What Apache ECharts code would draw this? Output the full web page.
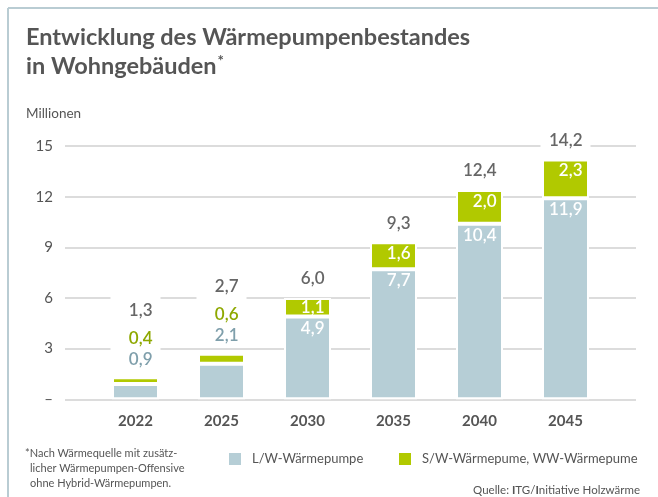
<!DOCTYPE html>
<html>
<head>
<meta charset="utf-8">
<script src="https://cdn.jsdelivr.net/npm/echarts@6/dist/echarts.min.js"></script>
<style>
html,body{margin:0;padding:0;background:#fff;}
#c{width:658px;height:497px;}
</style>
</head>
<body>
<div id="c"></div>
<script>
var years = ['2022', '2025', '2030', '2035', '2040', '2045'];
var lwValues = [0.9, 2.1, 4.9, 7.7, 10.4, 11.9];
var swValues = [0.4, 0.6, 1.1, 1.6, 2.0, 2.3];
var totals = [1.3, 2.7, 6.0, 9.3, 12.4, 14.2];
var yTicks = [0, 3, 6, 9, 12, 15];
var seriesNames = ['L/W-Wärmepumpe', 'S/W-Wärmepume, WW-Wärmepume'];
var smallBars = [true, true, false, false, false, false];

var FONT = 'Lato';
var BLUE = '#b6ced6', GREEN = '#b1c900';
var fmt = function (v) { return v.toFixed(1).replace('.', ','); };

var TITLE_FONT = 'bold 23.5px ' + FONT;
var mctx = document.createElement('canvas').getContext('2d');
mctx.font = TITLE_FONT;
var line2 = 'in Wohngebäuden';
var line2W = mctx.measureText(line2).width;

var chart = echarts.init(document.getElementById('c'), null, {renderer: 'canvas'});

function inBar(values, tightIndex) {
  return values.map(function (v, i) {
    var item = {value: v, label: {show: !smallBars[i]}};
    if (i === tightIndex) item.label.offset = [-2.5, -3];
    return item;
  });
}

var inLabel = {position: 'insideTopRight', distance: 4, offset: [-2.5, -1], color: '#fff', fontSize: 17, fontWeight: 600, fontFamily: FONT,
  formatter: function (p) { return fmt(p.value); }};

var richBase = {width: 42, align: 'right', fontSize: 17, fontWeight: 600, fontFamily: FONT};

var legendText = {color: '#555', fontSize: 13, fontFamily: FONT, padding: [0, 0, 0, 5]};

var option = {
  animation: false,
  textStyle: {fontFamily: FONT},
  grid: [
    {left: 65, right: 22, top: 146, height: 253.3},
    {left: 92.5, width: 516, top: 146, height: 253.3}
  ],
  xAxis: [
    {gridIndex: 0, type: 'category', data: years, show: false},
    {gridIndex: 1, type: 'category', data: years,
     axisLine: {show: false}, axisTick: {show: false},
     axisLabel: {color: '#555', fontSize: 15, fontWeight: 'bold', margin: 14, fontFamily: FONT}}
  ],
  yAxis: [
    {gridIndex: 0, type: 'value', min: 0, max: 15, interval: 3,
     axisLine: {show: false}, axisTick: {show: false},
     splitLine: {lineStyle: {color: '#dcdcdc', width: 2}},
     axisLabel: {color: '#555', fontSize: 15, margin: 12, fontFamily: FONT,
       formatter: function (v) { return v === 0 ? '–' : String(v); }}},
    {gridIndex: 1, type: 'value', min: 0, max: 15, interval: 3, show: false, splitLine: {show: false}}
  ],
  legend: [
    {left: 222, top: 446, padding: 5, itemWidth: 14, itemHeight: 14, icon: 'rect',
     data: [seriesNames[0]], textStyle: legendText},
    {left: 392, top: 446, padding: 5, itemWidth: 14, itemHeight: 14, icon: 'rect',
     data: [seriesNames[1]], textStyle: legendText}
  ],
  series: [
    {name: seriesNames[0], type: 'bar', stack: 'a', xAxisIndex: 1, yAxisIndex: 1,
     barWidth: 47, data: inBar(lwValues, -1),
     itemStyle: {color: BLUE, borderColor: '#fff', borderWidth: 2},
     label: inLabel},
    {name: seriesNames[1], type: 'bar', stack: 'a', xAxisIndex: 1, yAxisIndex: 1,
     barWidth: 47, data: inBar(swValues, 2),
     itemStyle: {color: GREEN, borderColor: '#fff', borderWidth: 2},
     label: inLabel},
    {name: 'Gesamt', type: 'bar', xAxisIndex: 1, yAxisIndex: 1, barWidth: 47, barGap: '-100%',
     silent: true, data: totals,
     itemStyle: {color: 'rgba(0,0,0,0)'},
     label: {show: true, position: 'top', distance: 8, backgroundColor: '#fff', padding: [0, 8, 0, 0],
       formatter: function (p) {
         var i = p.dataIndex;
         if (smallBars[i]) {
           return '{t|' + fmt(totals[i]) + '}\n{g|' + fmt(swValues[i]) + '}\n{b|' + fmt(lwValues[i]) + '}';
         }
         return '{T|' + fmt(totals[i]) + '}';
       },
       rich: {
         t: Object.assign({}, richBase, {color: '#666', lineHeight: 34}),
         T: Object.assign({}, richBase, {color: '#666', lineHeight: 22}),
         g: Object.assign({}, richBase, {color: '#8ea800', lineHeight: 22}),
         b: Object.assign({}, richBase, {color: '#7f9fab', lineHeight: 20})
       }}}
  ],
  graphic: [
    {type: 'line', shape: {x1: 8, y1: 8, x2: 658, y2: 8}, style: {stroke: '#b9ccd3', lineWidth: 2}},
    {type: 'line', shape: {x1: 8, y1: 8, x2: 8, y2: 497}, style: {stroke: '#b9ccd3', lineWidth: 2}},
    {type: 'text', left: 26, top: 25, style: {text: 'Entwicklung des Wärmepumpenbestandes', fill: '#555', font: TITLE_FONT}},
    {type: 'text', left: 26, top: 54, style: {text: line2, fill: '#555', font: TITLE_FONT}},
    {type: 'text', left: 26 + line2W + 1, top: 54, style: {text: '*', fill: '#555', font: 'bold 15px ' + FONT}},
    {type: 'text', left: 26, top: 107, style: {text: 'Millionen', fill: '#555', font: '13.5px ' + FONT}},
    {type: 'text', left: 25, top: 448, style: {text: '*Nach Wärmequelle mit zusätz-', fill: '#555', font: '11px ' + FONT}},
    {type: 'text', left: 30, top: 463, style: {text: 'licher Wärmepumpen-Offensive', fill: '#555', font: '11px ' + FONT}},
    {type: 'text', left: 30, top: 478, style: {text: 'ohne Hybrid-Wärmepumpen.', fill: '#555', font: '11px ' + FONT}},
    {type: 'text', right: 18, top: 484, style: {
      text: '{n|Quelle: }{b|I}{n|TG/}{b|I}{n|nitiative Holzwärme}',
      rich: {n: {fill: '#555', font: '11.5px ' + FONT}, b: {fill: '#555', font: 'bold 11.5px ' + FONT}}
    }}
  ]
};
chart.setOption(option);
</script>
</body>
</html>
